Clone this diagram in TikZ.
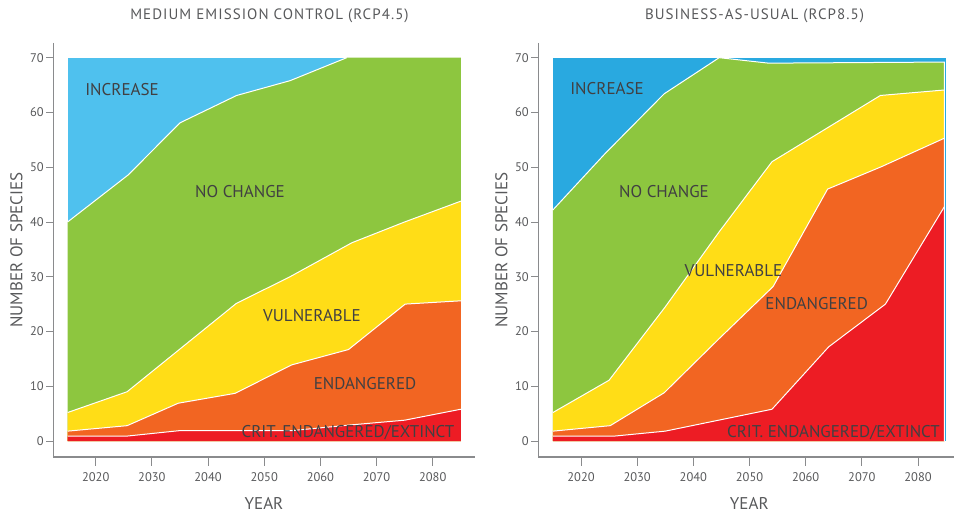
\documentclass[tikz,border=0pt]{standalone}
\usepackage{fontspec}
\setmainfont{PT Sans}
\newfontfamily\ttlfont[LetterSpace=7]{PT Sans}
\definecolor{incL}{HTML}{4FC1EE}
\definecolor{incR}{HTML}{29A9E0}
\definecolor{nochg}{HTML}{8DC63F}
\definecolor{vuln}{HTML}{FFDD17}
\definecolor{endg}{HTML}{F26522}
\definecolor{crit}{HTML}{ED1C24}
\definecolor{labelgray}{HTML}{414042}
\definecolor{tickgray}{HTML}{58595B}
\definecolor{axisgray}{HTML}{8A8B8D}
\begin{document}
\begin{tikzpicture}[x=1pt,y=-1pt,
  sep/.style={draw=white, line width=1pt, line join=round},
  lbl/.style={text=labelgray, font=\fontsize{17}{17}\selectfont, inner sep=0pt},
  ttl/.style={text=tickgray, font=\ttlfont\fontsize{15}{15}\selectfont, inner sep=0pt},
  axlbl/.style={text=tickgray, font=\fontsize{17}{17}\selectfont, inner sep=0pt},
  ticklbl/.style={text=tickgray, font=\fontsize{12.5}{12.5}\selectfont, inner sep=0pt},
  tickmark/.style={draw=axisgray, line width=0.9pt},
  axisline/.style={draw=axisgray, line width=1.6pt}]
\useasboundingbox (0,0) rectangle (954,513);

% ---------------- LEFT CHART ----------------
\begin{scope}[shift={(95.7,441)}, x=5.617pt, y=5.476pt]
  \fill[incL] (-5,0) rectangle (65,70);
  \fill[nochg] (-5,0) -- (-5,40) -- (5.8,48.6) -- (15,58.1) -- (25.1,63.1) -- (34.6,65.8) -- (44.7,70) -- (65,70) -- (65,0) -- cycle;
  \fill[vuln] (-5,0) -- (-5,5.2) -- (5.6,9.0) -- (25,25.1) -- (34.6,30) -- (45.6,36.2) -- (55,40) -- (65,43.8) -- (65,0) -- cycle;
  \fill[endg] (-5,0) -- (-5,1.8) -- (5.6,2.8) -- (14.7,6.9) -- (24.8,8.7) -- (34.9,13.9) -- (45,16.7) -- (55.1,25) -- (65,25.6) -- (65,0) -- cycle;
  \fill[crit] (-5,0) -- (-5,0.9) -- (5.6,0.9) -- (15,1.9) -- (35,1.9) -- (45,2.9) -- (55,3.8) -- (65,5.8) -- (65,0) -- cycle;
  \draw[sep] (-5,40) -- (5.8,48.6) -- (15,58.1) -- (25.1,63.1) -- (34.6,65.8) -- (44.7,70);
  \draw[sep] (-5,5.2) -- (5.6,9.0) -- (25,25.1) -- (34.6,30) -- (45.6,36.2) -- (55,40) -- (65,43.8);
  \draw[sep] (-5,1.8) -- (5.6,2.8) -- (14.7,6.9) -- (24.8,8.7) -- (34.9,13.9) -- (45,16.7) -- (55.1,25) -- (65,25.6);
  \draw[sep] (-5,0.9) -- (5.6,0.9) -- (15,1.9) -- (35,1.9) -- (45,2.9) -- (55,3.8) -- (65,5.8);
\end{scope}
\draw[axisline] (53.3,43) -- (53.3,457) -- (475,457);
\foreach \v in {0,10,...,70}{
  \draw[tickmark] (46,{441-5.476*\v}) -- (53.3,{441-5.476*\v});
  \node[ticklbl, anchor=east] (ly\v) at (44,{441-5.476*\v}) {\v};
}
\foreach \yr in {2020,2030,...,2080}{
  \draw[tickmark] ({95.7+5.617*(\yr-2020)},457) -- ({95.7+5.617*(\yr-2020)},466);
  \node[ticklbl] (lx\yr) at ({95.7+5.617*(\yr-2020)},476.7) {\yr};
}
\node[ttl] (ltitle) at (269.5,16) {MEDIUM EMISSION CONTROL (RCP4.5)};
\node[axlbl] (lyear) at (264,503.3) {YEAR};
\node[axlbl, rotate=90] (lnum) at (16.3,250) {NUMBER OF SPECIES};
\node[lbl] (linc) at (122,89.3) {INCREASE};
\node[lbl] (lno) at (240,191.7) {NO CHANGE};
\node[lbl] (lvul) at (312,315.7) {VULNERABLE};
\node[lbl] (lend) at (365,383.3) {ENDANGERED};
\node[lbl] (lcrit) at (348,432.3) {CRIT. ENDANGERED/EXTINCT};

% ---------------- RIGHT CHART ----------------
\begin{scope}[shift={(581,441)}, x=5.617pt, y=5.476pt]
  \fill[incR] (-5,0) rectangle (65,70);
  \fill[nochg] (-5,0) -- (-5,42.2) -- (4.3,52.5) -- (14.8,63.4) -- (24.6,70) -- (33.4,69) -- (64.7,69.2) -- (64.7,0) -- cycle;
  \fill[vuln] (-5,0) -- (-5,5.2) -- (5,11.1) -- (15,24.5) -- (24.6,38.2) -- (34,51) -- (53.3,63.1) -- (64.7,64.1) -- (64.7,0) -- cycle;
  \fill[endg] (-5,0) -- (-5,1.8) -- (5.2,2.8) -- (14.8,8.8) -- (24.6,18.7) -- (34.2,28.2) -- (43.9,46) -- (53.5,50.1) -- (64.7,55.3) -- (64.7,0) -- cycle;
  \fill[crit] (-5,0) -- (-5,0.9) -- (6,0.9) -- (15,1.8) -- (34,5.8) -- (44.1,17.2) -- (54.2,25) -- (64.7,42.8) -- (64.7,0) -- cycle;
  \draw[sep] (-5,42.2) -- (4.3,52.5) -- (14.8,63.4) -- (24.6,70) -- (33.4,69) -- (64.7,69.2) -- (64.7,0);
  \draw[sep] (-5,5.2) -- (5,11.1) -- (15,24.5) -- (24.6,38.2) -- (34,51) -- (53.3,63.1) -- (64.7,64.1);
  \draw[sep] (-5,1.8) -- (5.2,2.8) -- (14.8,8.8) -- (24.6,18.7) -- (34.2,28.2) -- (43.9,46) -- (53.5,50.1) -- (64.7,55.3);
  \draw[sep] (-5,0.9) -- (6,0.9) -- (15,1.8) -- (34,5.8) -- (44.1,17.2) -- (54.2,25) -- (64.7,42.8);
\end{scope}
\draw[axisline] (538.3,43) -- (538.3,457) -- (954,457);
\foreach \v in {0,10,...,70}{
  \draw[tickmark] (531,{441-5.476*\v}) -- (538.3,{441-5.476*\v});
  \node[ticklbl, anchor=east] (ry\v) at (529,{441-5.476*\v}) {\v};
}
\foreach \yr in {2020,2030,...,2080}{
  \draw[tickmark] ({581+5.617*(\yr-2020)},457) -- ({581+5.617*(\yr-2020)},466);
  \node[ticklbl] (rx\yr) at ({581+5.617*(\yr-2020)},476.7) {\yr};
}
\node[ttl] (rtitle) at (754.5,16) {BUSINESS-AS-USUAL (RCP8.5)};
\node[axlbl] (ryear) at (749.3,503.3) {YEAR};
\node[axlbl, rotate=90] (rnum) at (501.5,250) {NUMBER OF SPECIES};
\node[lbl] (rinc) at (607,89) {INCREASE};
\node[lbl] (rno) at (664,191.7) {NO CHANGE};
\node[lbl] (rvul) at (733.5,271) {VULNERABLE};
\node[lbl] (rend) at (816.7,304) {ENDANGERED};
\node[lbl] (rcrit) at (833.5,432.3) {CRIT. ENDANGERED/EXTINCT};
\end{tikzpicture}
\end{document}
